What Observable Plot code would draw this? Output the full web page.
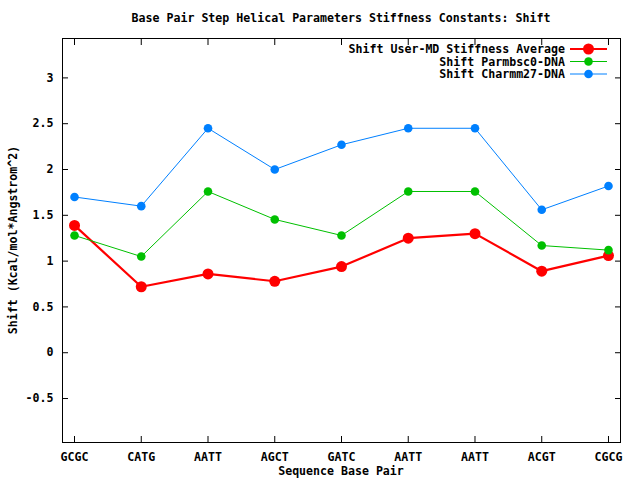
<!DOCTYPE html>
<html>
<head>
<meta charset="utf-8">
<script src="https://cdn.jsdelivr.net/npm/d3@7"></script>
<script src="https://cdn.jsdelivr.net/npm/@observablehq/plot@0.6"></script>
<style>
  html, body { margin: 0; padding: 0; background: #fff; }
  #chart svg { display: block; }
</style>
</head>
<body>
<div id="chart"></div>
<script>
const categories = ["GCGC", "CATG", "AATT", "AGCT", "GATC", "AATT", "AATT", "ACGT", "CGCG"];
const userMD   = [1.39, 0.72, 0.86, 0.78, 0.94, 1.25, 1.30, 0.89, 1.06];
const parmbsc0 = [1.28, 1.05, 1.76, 1.455, 1.28, 1.76, 1.76, 1.17, 1.12];
const charmm27 = [1.70, 1.60, 2.45, 2.00, 2.27, 2.45, 2.45, 1.56, 1.82];
const seriesNames = ["Shift User-MD Stiffness Average", "Shift Parmbsc0-DNA", "Shift Charmm27-DNA"];
const seriesColors = ["#ff0000", "#00c000", "#0080ff"];
const yTicks = [-0.5, 0, 0.5, 1, 1.5, 2, 2.5, 3];
const titleText = "Base Pair Step Helical Parameters Stiffness Constants: Shift";
const xLabel = "Sequence Base Pair";
const yLabel = "Shift (Kcal/mol*Angstrom^2)";

const mk = vals => vals.map((v, i) => ({i, v}));
const red = mk(userMD), green = mk(parmbsc0), blue = mk(charmm27);
const xIdx = categories.map((_, i) => i);

const FONT = "'DejaVu Sans Mono', monospace";

const plot = Plot.plot({
  width: 640,
  height: 480,
  marginTop: 38,
  marginBottom: 38,
  marginLeft: 62,
  marginRight: 20,
  style: {fontFamily: FONT, fontSize: "11.6px", fontWeight: "bold", background: "#fff", color: "#000"},
  x: {type: "linear", domain: [-0.18, 8.18]},
  y: {domain: [-0.98, 3.43]},
  marks: [
    Plot.axisX(xIdx, {anchor: "bottom", tickSize: -6, text: null, label: null, stroke: "#000"}),
    Plot.axisX(xIdx, {anchor: "top", tickSize: -6, text: null, label: null, stroke: "#000"}),
    Plot.axisX(xIdx, {anchor: "bottom", tickSize: 0, tickPadding: 10, tickFormat: i => categories[i], label: null, fill: "#000"}),
    Plot.axisY(yTicks, {anchor: "left", tickSize: -6, text: null, label: null, stroke: "#000"}),
    Plot.axisY(yTicks, {anchor: "right", tickSize: -6, text: null, label: null, stroke: "#000"}),
    Plot.axisY(yTicks, {anchor: "left", tickSize: 0, tickPadding: 9, tickFormat: d => String(d), label: null, fill: "#000"}),
    Plot.line(red, {x: "i", y: "v", stroke: seriesColors[0], strokeWidth: 2.2}),
    Plot.dot(red, {x: "i", y: "v", fill: seriesColors[0], r: 5.5}),
    Plot.line(green, {x: "i", y: "v", stroke: seriesColors[1], strokeWidth: 1}),
    Plot.dot(green, {x: "i", y: "v", fill: seriesColors[1], r: 4.3}),
    Plot.line(blue, {x: "i", y: "v", stroke: seriesColors[2], strokeWidth: 1}),
    Plot.dot(blue, {x: "i", y: "v", fill: seriesColors[2], r: 4.3}),
    Plot.frame({stroke: "#000", strokeWidth: 1})
  ]
});

const svg = d3.select(plot);
const txt = (x, y, s, anchor, extra) => {
  const t = svg.append("text")
    .attr("x", x).attr("y", y)
    .attr("text-anchor", anchor)
    .attr("dominant-baseline", "central")
    .style("font-family", FONT)
    .style("font-size", "11.6px")
    .style("font-weight", "bold")
    .attr("fill", "#000")
    .text(s);
  if (extra) extra(t);
  return t;
};
txt(341, 18, titleText, "middle");
txt(341, 471, xLabel, "middle");
txt(13, 240, yLabel, "middle", t => t.attr("transform", "rotate(-90,13,240)"));

// legend
const legY = [49, 61.5, 74];
seriesNames.forEach((name, k) => {
  const y = legY[k];
  txt(565, y, name, "end");
  svg.append("line").attr("x1", 570).attr("x2", 607).attr("y1", y).attr("y2", y)
    .attr("stroke", seriesColors[k]).attr("stroke-width", k === 0 ? 2.2 : 1);
  svg.append("circle").attr("cx", 588.5).attr("cy", y).attr("r", k === 0 ? 5.5 : 4.3)
    .attr("fill", seriesColors[k]);
});

document.getElementById("chart").appendChild(plot);
</script>
</body>
</html>
